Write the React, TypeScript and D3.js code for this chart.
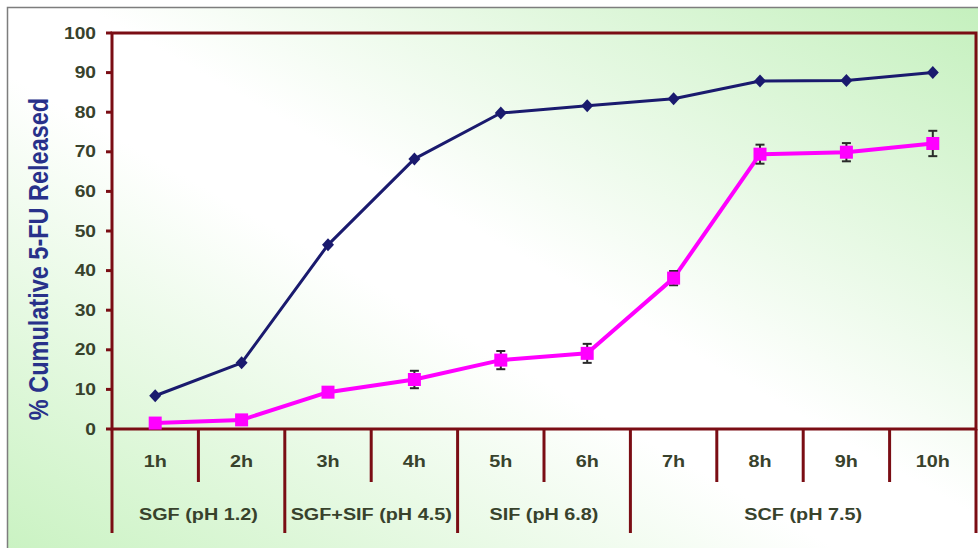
import React from "react";
import * as d3 from "d3";

// Sampling times and dissolution media
const hours = ["1h", "2h", "3h", "4h", "5h", "6h", "7h", "8h", "9h", "10h"];
const phaseLabels = ["SGF (pH 1.2)", "SGF+SIF (pH 4.5)", "SIF (pH 6.8)", "SCF (pH 7.5)"];
const phaseSpans = [2, 2, 2, 4];

// Cumulative % 5-FU released
const seriesA = [8.4, 16.7, 46.5, 68.2, 79.8, 81.6, 83.4, 87.9, 88.0, 90.0];
const seriesB = [1.5, 2.3, 9.3, 12.5, 17.4, 19.1, 38.1, 69.4, 69.9, 72.1];
const seriesBErr = [0.5, 0.6, 1.2, 2.2, 2.3, 2.4, 1.8, 2.4, 2.3, 3.2];

const yTicks = [0, 10, 20, 30, 40, 50, 60, 70, 80, 90, 100];

const W = 978;
const H = 548;
const plot = { left: 112, right: 976, top: 33, bottom: 429 };

const AXIS = "#7a0d14";
const LABEL = "#38422c";
const NAVY = "#1a1a6e";
const PINK = "#ff00ff";
const FONT = "'Liberation Sans', Arial, sans-serif";
const SX = 1.2; // horizontal text stretch

export default function App() {
  const x = d3.scaleBand<string>().domain(hours).range([plot.left, plot.right]).paddingInner(0).paddingOuter(0);
  const y = d3.scaleLinear().domain([0, 100]).range([plot.bottom, plot.top]);
  const cx = (h: string) => (x(h) as number) + x.bandwidth() / 2;

  const line = d3
    .line<number>()
    .x((_, i) => cx(hours[i]))
    .y((v) => y(v));

  // square diamond marker
  const diamond = "M0,-6.5L6,0L0,6.5L-6,0Z";

  // boundaries between hour cells and between media groups
  const groupEdges: number[] = [0];
  phaseSpans.forEach((s) => groupEdges.push(groupEdges[groupEdges.length - 1] + s));
  const bw = x.bandwidth();
  const edgeX = (i: number) => plot.left + i * bw;

  return (
    <svg
      width={W}
      height={H}
      style={{ position: "absolute", left: 0, top: 0 }}
      xmlns="http://www.w3.org/2000/svg"
    >
      <defs>
        <linearGradient id="bg" x1="0" y1="1" x2="1" y2="0">
          <stop offset="0" stopColor="#c8f2c0" />
          <stop offset="0.44" stopColor="#ffffff" />
          <stop offset="0.54" stopColor="#ffffff" />
          <stop offset="1" stopColor="#c4f0bd" />
        </linearGradient>
      </defs>
      <rect x={0} y={0} width={W} height={H} fill="#ffffff" />
      <rect x={7.5} y={7.5} width={980} height={560} fill="url(#bg)" stroke="#7d7d7d" strokeWidth={1.5} />

      {/* plot frame */}
      <rect
        x={plot.left}
        y={plot.top}
        width={plot.right - plot.left}
        height={plot.bottom - plot.top}
        fill="none"
        stroke={AXIS}
        strokeWidth={3}
      />

      {/* y axis ticks and labels */}
      {yTicks.map((t) => (
        <g key={t}>
          <line x1={plot.left - 6} x2={plot.left} y1={y(t)} y2={y(t)} stroke={AXIS} strokeWidth={3} />
          <text
            transform={`translate(${plot.left - 16},${y(t) + 5.5}) scale(${SX},1)`}
            textAnchor="end"
            fontFamily={FONT}
            fontWeight="bold"
            fontSize={16}
            fill={LABEL}
          >
            {t}
          </text>
        </g>
      ))}

      {/* y axis title */}
      <text
        transform={`translate(48,259) scale(${SX},1) rotate(-90)`}
        textAnchor="middle"
        fontFamily={FONT}
        fontWeight="bold"
        fontSize={23.5}
        fill="#28318a"
      >
        % Cumulative 5-FU Released
      </text>

      {/* category dividers below the axis */}
      {d3.range(hours.length + 1).map((i) => {
        const isGroup = groupEdges.includes(i);
        return (
          <line
            key={i}
            x1={edgeX(i)}
            x2={edgeX(i)}
            y1={plot.bottom}
            y2={isGroup ? 533 : 482}
            stroke={AXIS}
            strokeWidth={3}
          />
        );
      })}

      {/* hour labels */}
      {hours.map((h) => (
        <text
          key={h}
          transform={`translate(${cx(h)},466.5) scale(${SX},1)`}
          textAnchor="middle"
          fontFamily={FONT}
          fontWeight="bold"
          fontSize={16.5}
          fill={LABEL}
        >
          {h}
        </text>
      ))}

      {/* media labels */}
      {phaseLabels.map((p, i) => {
        const mid = (edgeX(groupEdges[i]) + edgeX(groupEdges[i + 1])) / 2;
        return (
          <text
            key={p}
            transform={`translate(${mid},520) scale(${SX},1)`}
            textAnchor="middle"
            fontFamily={FONT}
            fontWeight="bold"
            fontSize={16.5}
            fill={LABEL}
          >
            {p}
          </text>
        );
      })}

      {/* navy series */}
      <path d={line(seriesA) || ""} fill="none" stroke={NAVY} strokeWidth={3} strokeLinejoin="round" />
      {seriesA.map((v, i) => (
        <path key={i} d={diamond} transform={`translate(${cx(hours[i])},${y(v)})`} fill={NAVY} />
      ))}

      {/* magenta series with error bars */}
      <path d={line(seriesB) || ""} fill="none" stroke={PINK} strokeWidth={4} strokeLinejoin="round" />
      {seriesB.map((v, i) => {
        const px = cx(hours[i]);
        const hi = y(v + seriesBErr[i]);
        const lo = y(v - seriesBErr[i]);
        return (
          <g key={i}>
            <line x1={px} x2={px} y1={hi} y2={lo} stroke="#2a2a2a" strokeWidth={2} />
            <line x1={px - 4.5} x2={px + 4.5} y1={hi} y2={hi} stroke="#2a2a2a" strokeWidth={2} />
            <line x1={px - 4.5} x2={px + 4.5} y1={lo} y2={lo} stroke="#2a2a2a" strokeWidth={2} />
            <rect x={px - 6.5} y={y(v) - 6.5} width={13} height={13} fill={PINK} />
          </g>
        );
      })}
    </svg>
  );
}
